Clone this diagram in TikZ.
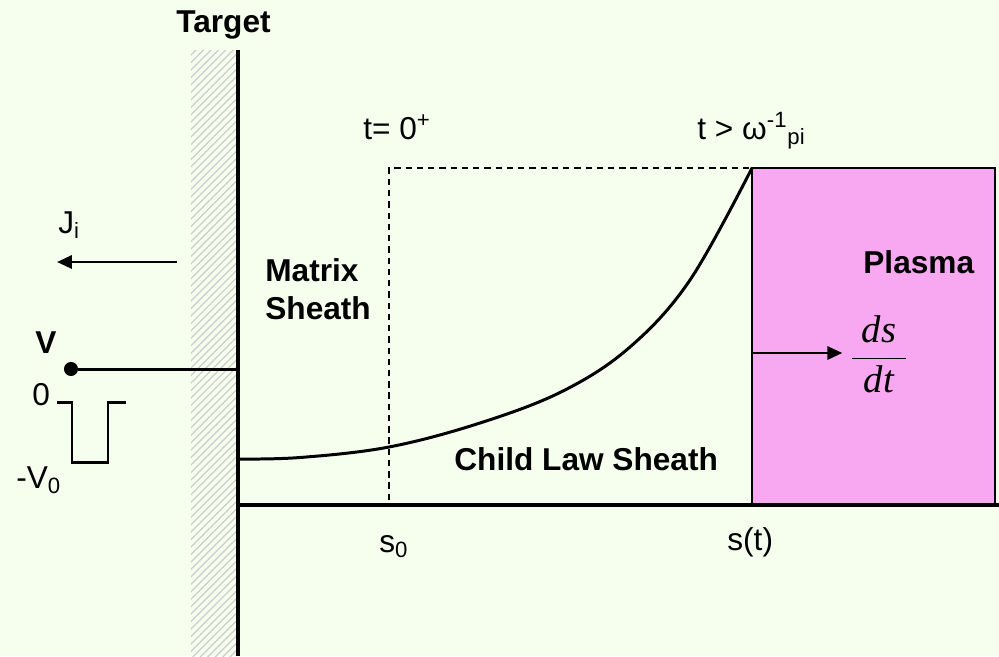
\documentclass[tikz,border=0pt]{standalone}
\usepackage{fontspec}
\setmainfont{Liberation Sans}
\newfontfamily\timesit{Liberation Serif}[ItalicFont=* Italic]
\usetikzlibrary{arrows.meta,patterns.meta,positioning}
\definecolor{bgcol}{RGB}{246,255,238}
\definecolor{plasmapink}{RGB}{248,168,240}

\begin{document}
\begin{tikzpicture}[x=0.02cm, y=-0.02cm,
  every node/.style={font=\fontsize{18}{21.6}\selectfont, inner sep=0pt},
  lbl/.style={anchor=base west},
  boldlbl/.style={anchor=base west, font=\fontsize{18}{21.6}\selectfont\bfseries},
  heavy/.style={line width=2.1pt},
  wire/.style={line width=1.7pt},
  fluxarrow/.style={line width=1.5pt, -{Triangle[length=8.5pt,width=7.5pt]}}]
\useasboundingbox[fill=bgcol] (0,0) rectangle (999,656);

% Target wall with hatching
\fill[pattern={Lines[angle=45, distance=3pt, line width=0.7pt]}, pattern color=gray!40] (191,50) rectangle (237,656);
\coordinate (wallTop) at (238,50);
\coordinate (wallBot) at (238,656);
\draw[heavy] (wallTop) -- (wallBot);
\node[boldlbl] (target) at (176,32) {Target};

% Ion current
\coordinate (jStart) at (177,262);
\coordinate (jEnd) at (57,262);
\draw[fluxarrow] (jStart) -- (jEnd);
\node[lbl] (jlab) at (58,233) {J\textsubscript{i}};

% Applied voltage and pulse
\node[circle, fill, minimum size=8pt] (vdot) at (71,369) {};
\coordinate (wallV) at (238,369);
\draw[wire] (vdot) -- (wallV);
\node[boldlbl] (vlab) at (35,353) {V};
\node[lbl] (zero) at (32,405) {0};
\node[lbl] (vzero) at (16,488) {-V\textsubscript{0}};
\draw[wire] (57,402) -- (72,402) -- (72,462) -- (108,462) -- (108,402) -- (126,402);

% Plasma block
\filldraw[fill=plasmapink, line width=1.6pt] (752,168) rectangle (995,505);
\node[boldlbl] (plasma) at (863,273) {Plasma};
\node (dsdt) at (879,354) {\fontsize{22}{26}\selectfont$\displaystyle\frac{\makebox[31pt]{\timesit\itshape ds}}{\makebox[31pt]{\timesit\itshape dt}}$};
\coordinate (front) at (752,353);
\draw[fluxarrow] (front) -- ([xshift=-4pt]dsdt.west |- front);

% Base line
\coordinate (base0) at (238,505);
\coordinate (baseEnd) at (999,505);
\draw[heavy] (base0) -- (baseEnd);

% Initial matrix sheath edge (dashed)
\draw[line width=1.5pt, dash pattern=on 3.6pt off 2.8pt] (389,500) -- (389,168) -- (752,168);

% Expanding sheath edge
\draw[wire] plot[smooth, tension=0.6] coordinates
  {(238,459) (300,457.5) (389,447) (480,423) (563,391) (630,347) (690,280) (752,168)};

% Labels
\node[boldlbl, align=left] (matrix) at (265,319) {Matrix\\Sheath};
\node[boldlbl] (child) at (454,470) {Child Law Sheath};
\node[lbl] (tzero) at (363,139) {t= 0\textsuperscript{+}};
\node[lbl] (tlate) at (697,139) {t > ω\textsuperscript{-1}\textsubscript{pi}};
\node[lbl] (szero) at (379,552) {s\textsubscript{0}};
\node[lbl] (st) at (727,550) {s(t)};

\end{tikzpicture}
\end{document}
